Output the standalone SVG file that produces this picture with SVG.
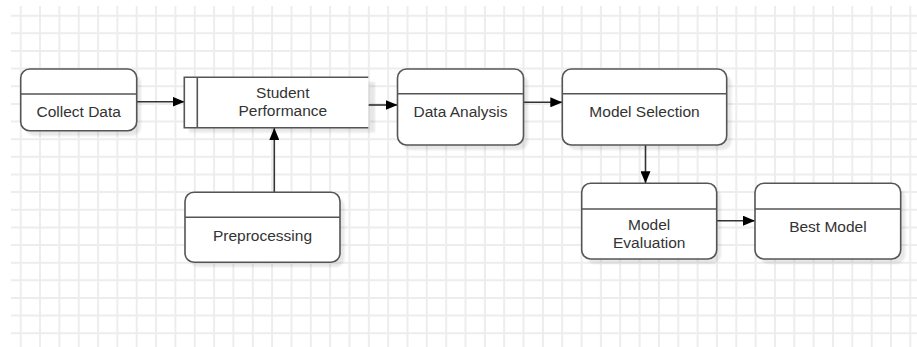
<svg xmlns="http://www.w3.org/2000/svg" width="917" height="347" viewBox="0 0 917 347">
<defs>
<style>
.grid line{stroke:#ededed;stroke-width:2}
.box{fill:#ffffff;stroke:#555555;stroke-width:1.6}
.hdr{stroke:#555555;stroke-width:1.6;fill:none}
.shadow{fill:#000000;opacity:0.09}
.lbl{font-family:"Liberation Sans",Arial,sans-serif;font-size:15.5px;fill:#333333;text-anchor:middle}
.conn{stroke:#333333;stroke-width:1.6;fill:none}
</style>
<marker id="arr" viewBox="0 0 12 10" refX="12" refY="5" markerWidth="12" markerHeight="10" markerUnits="userSpaceOnUse" orient="auto">
<path d="M0,0 L12,5 L0,10 Z" fill="#000000"/>
</marker>
<filter id="blur" x="-10%" y="-10%" width="120%" height="130%"><feGaussianBlur stdDeviation="1.2"/></filter>
</defs>
<rect width="917" height="347" fill="#ffffff"/>
<g class="grid" id="grid">
<line x1="11" y1="15.7" x2="917" y2="15.7"/><line x1="11" y1="33.3" x2="917" y2="33.3"/><line x1="11" y1="51" x2="917" y2="51"/><line x1="11" y1="68.6" x2="917" y2="68.6"/><line x1="11" y1="86.3" x2="917" y2="86.3"/><line x1="11" y1="103.9" x2="917" y2="103.9"/><line x1="11" y1="121.5" x2="917" y2="121.5"/><line x1="11" y1="139.2" x2="917" y2="139.2"/><line x1="11" y1="156.8" x2="917" y2="156.8"/><line x1="11" y1="174.5" x2="917" y2="174.5"/><line x1="11" y1="192.1" x2="917" y2="192.1"/><line x1="11" y1="209.7" x2="917" y2="209.7"/><line x1="11" y1="227.4" x2="917" y2="227.4"/><line x1="11" y1="245" x2="917" y2="245"/><line x1="11" y1="262.7" x2="917" y2="262.7"/><line x1="11" y1="280.3" x2="917" y2="280.3"/><line x1="11" y1="297.9" x2="917" y2="297.9"/><line x1="11" y1="315.6" x2="917" y2="315.6"/><line x1="11" y1="333.2" x2="917" y2="333.2"/>
<line x1="20.7" y1="6" x2="20.7" y2="347"/><line x1="40" y1="6" x2="40" y2="347"/><line x1="59.4" y1="6" x2="59.4" y2="347"/><line x1="78.7" y1="6" x2="78.7" y2="347"/><line x1="98.1" y1="6" x2="98.1" y2="347"/><line x1="117.4" y1="6" x2="117.4" y2="347"/><line x1="136.7" y1="6" x2="136.7" y2="347"/><line x1="156.1" y1="6" x2="156.1" y2="347"/><line x1="175.4" y1="6" x2="175.4" y2="347"/><line x1="194.8" y1="6" x2="194.8" y2="347"/><line x1="214.1" y1="6" x2="214.1" y2="347"/><line x1="233.4" y1="6" x2="233.4" y2="347"/><line x1="252.8" y1="6" x2="252.8" y2="347"/><line x1="272.1" y1="6" x2="272.1" y2="347"/><line x1="291.5" y1="6" x2="291.5" y2="347"/><line x1="310.8" y1="6" x2="310.8" y2="347"/><line x1="330.1" y1="6" x2="330.1" y2="347"/><line x1="349.5" y1="6" x2="349.5" y2="347"/><line x1="368.8" y1="6" x2="368.8" y2="347"/><line x1="388.2" y1="6" x2="388.2" y2="347"/><line x1="407.5" y1="6" x2="407.5" y2="347"/><line x1="426.8" y1="6" x2="426.8" y2="347"/><line x1="446.2" y1="6" x2="446.2" y2="347"/><line x1="465.5" y1="6" x2="465.5" y2="347"/><line x1="484.9" y1="6" x2="484.9" y2="347"/><line x1="504.2" y1="6" x2="504.2" y2="347"/><line x1="523.5" y1="6" x2="523.5" y2="347"/><line x1="542.9" y1="6" x2="542.9" y2="347"/><line x1="562.2" y1="6" x2="562.2" y2="347"/><line x1="581.6" y1="6" x2="581.6" y2="347"/><line x1="600.9" y1="6" x2="600.9" y2="347"/><line x1="620.2" y1="6" x2="620.2" y2="347"/><line x1="639.6" y1="6" x2="639.6" y2="347"/><line x1="658.9" y1="6" x2="658.9" y2="347"/><line x1="678.3" y1="6" x2="678.3" y2="347"/><line x1="697.6" y1="6" x2="697.6" y2="347"/><line x1="716.9" y1="6" x2="716.9" y2="347"/><line x1="736.3" y1="6" x2="736.3" y2="347"/><line x1="755.6" y1="6" x2="755.6" y2="347"/><line x1="775" y1="6" x2="775" y2="347"/><line x1="794.3" y1="6" x2="794.3" y2="347"/><line x1="813.6" y1="6" x2="813.6" y2="347"/><line x1="833" y1="6" x2="833" y2="347"/><line x1="852.3" y1="6" x2="852.3" y2="347"/><line x1="871.7" y1="6" x2="871.7" y2="347"/><line x1="891" y1="6" x2="891" y2="347"/><line x1="910.3" y1="6" x2="910.3" y2="347"/>
</g>
<g id="connectors">
<line class="conn" x1="137" y1="101.7" x2="184.5" y2="101.7" marker-end="url(#arr)"/>
<line class="conn" x1="368.5" y1="105" x2="397.5" y2="105" marker-end="url(#arr)"/>
<line class="conn" x1="523.5" y1="102.3" x2="562.3" y2="102.3" marker-end="url(#arr)"/>
<line class="conn" x1="645.5" y1="145" x2="645.5" y2="183.3" marker-end="url(#arr)"/>
<line class="conn" x1="717" y1="220.7" x2="755" y2="220.7" marker-end="url(#arr)"/>
<line class="conn" x1="274.3" y1="192.3" x2="274.3" y2="128" marker-end="url(#arr)"/>
</g>
<g id="collect-data">
<rect class="shadow" filter="url(#blur)" x="25" y="74" width="116" height="61.7" rx="9"/>
<rect class="box" x="20.7" y="69" width="116" height="61.7" rx="9"/>
<line class="hdr" x1="20.7" y1="94" x2="136.7" y2="94"/>
<text class="lbl" x="78.7" y="116.7">Collect Data</text>
</g>
<g id="student-performance">
<rect class="shadow" filter="url(#blur)" x="189" y="82" width="186" height="50.4"/>
<rect x="184.3" y="77.3" width="184" height="50.4" fill="#ffffff"/>
<path class="hdr" d="M368.3,77.3 H184.3 V127.7 H368.3 M197.3,77.3 V127.7"/>
<text class="lbl" x="282.8" y="98.2">Student</text>
<text class="lbl" x="282.8" y="115.8">Performance</text>
</g>
<g id="data-analysis">
<rect class="shadow" filter="url(#blur)" x="402" y="74" width="126" height="76" rx="9"/>
<rect class="box" x="397.5" y="69" width="126" height="76" rx="9"/>
<line class="hdr" x1="397.5" y1="93.7" x2="523.5" y2="93.7"/>
<text class="lbl" x="460.5" y="116.7">Data Analysis</text>
</g>
<g id="model-selection">
<rect class="shadow" filter="url(#blur)" x="567" y="74" width="164.4" height="76" rx="9"/>
<rect class="box" x="562.3" y="69" width="164.4" height="76" rx="9"/>
<line class="hdr" x1="562.3" y1="93.7" x2="726.7" y2="93.7"/>
<text class="lbl" x="644.5" y="116.7">Model Selection</text>
</g>
<g id="preprocessing">
<rect class="shadow" filter="url(#blur)" x="189.5" y="197" width="155" height="70" rx="9"/>
<rect class="box" x="185" y="192.3" width="155" height="70" rx="9"/>
<line class="hdr" x1="185" y1="217.3" x2="340" y2="217.3"/>
<text class="lbl" x="262.5" y="240.7">Preprocessing</text>
</g>
<g id="model-evaluation">
<rect class="shadow" filter="url(#blur)" x="586" y="188" width="135" height="75.7" rx="9"/>
<rect class="box" x="581.7" y="183.3" width="135" height="75.7" rx="9"/>
<line class="hdr" x1="581.7" y1="209" x2="716.7" y2="209"/>
<text class="lbl" x="649.2" y="229.9">Model</text>
<text class="lbl" x="649.2" y="247.5">Evaluation</text>
</g>
<g id="best-model">
<rect class="shadow" filter="url(#blur)" x="759.5" y="188" width="145.7" height="75.7" rx="9"/>
<rect class="box" x="755" y="183.3" width="145.7" height="75.7" rx="9"/>
<line class="hdr" x1="755" y1="209" x2="900.7" y2="209"/>
<text class="lbl" x="827.9" y="231.7">Best Model</text>
</g>
</svg>
